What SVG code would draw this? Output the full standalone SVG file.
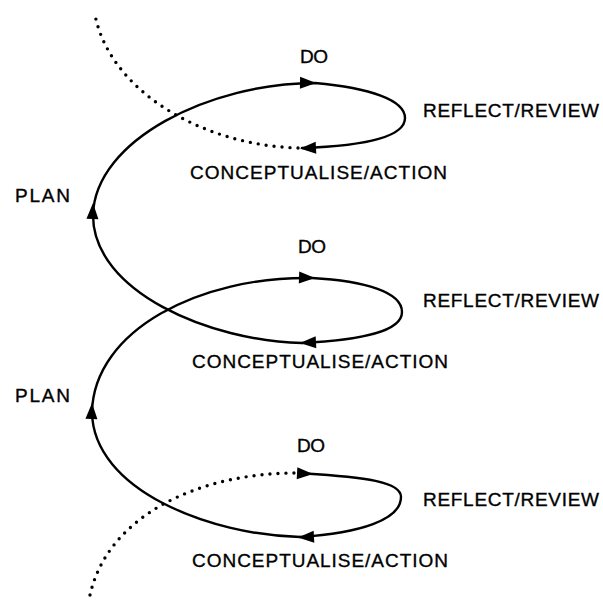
<svg xmlns="http://www.w3.org/2000/svg" width="603" height="600" viewBox="0 0 603 600">
<style>
  .lbl { font-family: "Liberation Sans", "DejaVu Sans", sans-serif; font-size: 19px; fill: #000; stroke: #000; stroke-width: 0.35; }
  .solid { fill: none; stroke: #000; stroke-width: 2.4; stroke-linecap: round; }
  .dot { fill: none; stroke: #000; stroke-width: 3.4; stroke-linecap: round; stroke-dasharray: 0 8; }
  .ah { fill: #000; }
</style>
<defs>
  <path id="ah" class="ah" d="M0,0 L-16,-6 L-16,6 Z"/>
</defs>
<rect width="603" height="600" fill="#fff"/>

<g id="connectors">
  <path class="dot" d="M298,148 C200,145 110,90 95,15"/>
  <path class="solid" d="M93,215 C95,140 210,83 315,83 C370,88 405,100 405,118 C405,138 360,146 302,148"/>
  <path class="solid" d="M302,343 C210,341 93,292 93,215"/>
  <path class="solid" d="M92,412 C94,330 200,276 312,278 C365,281 402,292 402,312 C402,332 360,340 302,343"/>
  <path class="solid" d="M300,537 C210,535 93,490 92,412"/>
  <path class="solid" d="M305,473.5 C365,477 401,482 401,497 C401,520 360,533 300,537"/>
  <path class="dot" d="M90,595 C108,515 200,472 300,473"/>

  <use href="#ah" transform="translate(316,83) rotate(1)"/>
  <use href="#ah" transform="translate(300,148.5) rotate(177)"/>
  <use href="#ah" transform="translate(93,203) rotate(-88)"/>
  <use href="#ah" transform="translate(315,278) rotate(2)"/>
  <use href="#ah" transform="translate(300,343) rotate(177)"/>
  <use href="#ah" transform="translate(92,403) rotate(-88)"/>
  <use href="#ah" transform="translate(313,474) rotate(3)"/>
  <use href="#ah" transform="translate(298,537.5) rotate(177)"/>
</g>

<g id="do1"><text class="lbl" x="300" y="63" textLength="28">DO</text></g>
<g id="reflect1"><text class="lbl" x="423" y="117" textLength="176">REFLECT/REVIEW</text></g>
<g id="concept1"><text class="lbl" x="190" y="179" textLength="257">CONCEPTUALISE/ACTION</text></g>
<g id="plan1"><text class="lbl" x="15" y="202" textLength="55">PLAN</text></g>

<g id="do2"><text class="lbl" x="298" y="253" textLength="28">DO</text></g>
<g id="reflect2"><text class="lbl" x="423" y="307" textLength="176">REFLECT/REVIEW</text></g>
<g id="concept2"><text class="lbl" x="192" y="368" textLength="256">CONCEPTUALISE/ACTION</text></g>
<g id="plan2"><text class="lbl" x="15" y="402" textLength="55">PLAN</text></g>

<g id="do3"><text class="lbl" x="297" y="452" textLength="28">DO</text></g>
<g id="reflect3"><text class="lbl" x="423" y="506" textLength="176">REFLECT/REVIEW</text></g>
<g id="concept3"><text class="lbl" x="192" y="567" textLength="256">CONCEPTUALISE/ACTION</text></g>
</svg>
